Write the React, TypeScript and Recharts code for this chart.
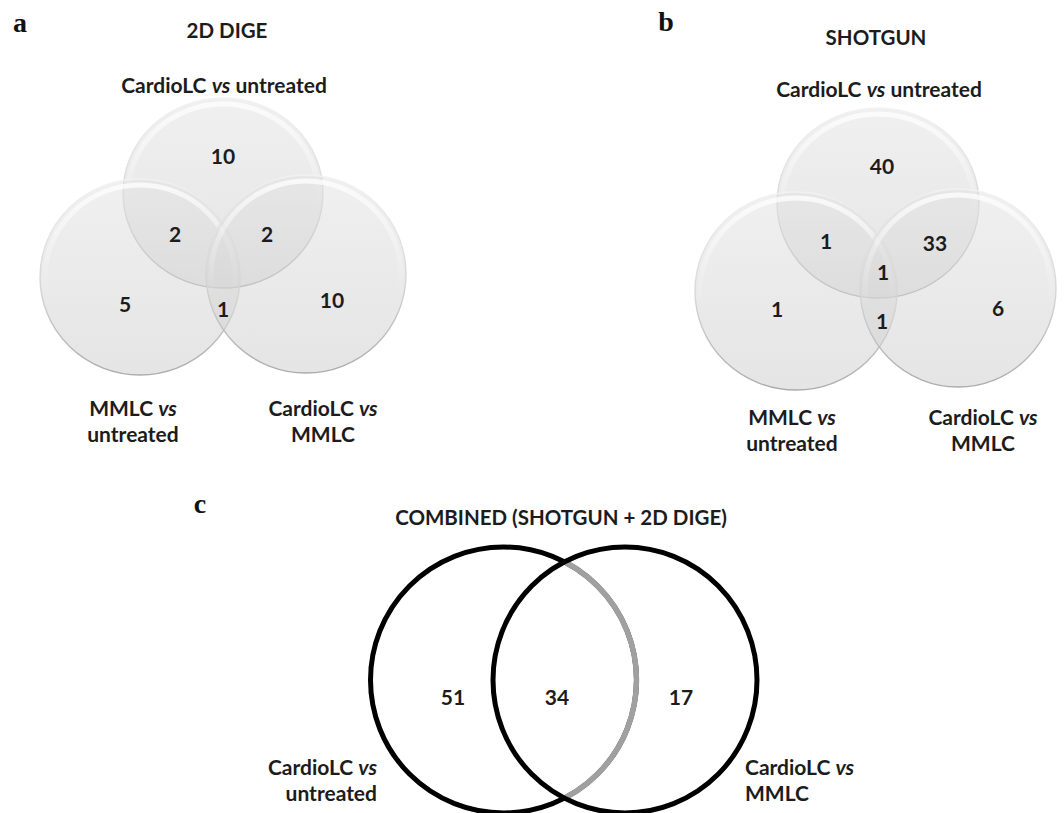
import React from "react";
import { ScatterChart, Scatter, XAxis, YAxis } from "recharts";

const WIDTH = 1064;
const HEIGHT = 813;
// plot area is the whole svg, so one data unit is one pixel on both axes
const X_DOMAIN: [number, number] = [0, WIDTH];
const Y_DOMAIN: [number, number] = [0, HEIGHT];
const KX = WIDTH / (X_DOMAIN[1] - X_DOMAIN[0]);
const KY = HEIGHT / (Y_DOMAIN[1] - Y_DOMAIN[0]);

const FONT = "Lato, 'Open Sans', sans-serif";
const INK = "#1c1c1c";

const panelLetters = ["a", "b", "c"];
const panelTitles = ["2D DIGE", "SHOTGUN", "COMBINED (SHOTGUN + 2D DIGE)"];

// three-way comparisons (a, b)
const tripleSets = ["CardioLC vs untreated", "MMLC vs untreated", "CardioLC vs MMLC"];
const tripleKeys = ["T", "L", "R"];
// regions: only top, only left, only right, top+left, top+right, left+right, all three
const tripleRegions = ["T", "L", "R", "TL", "TR", "LR", "TLR"];
const digeCounts: (number | null)[] = [10, 5, 10, 2, 2, 1, null];
const shotgunCounts: (number | null)[] = [40, 1, 6, 1, 33, 1, 1];

// two-way comparison (c)
const pairSets = ["CardioLC vs untreated", "CardioLC vs MMLC"];
const pairKeys = ["A", "B"];
const pairRegions = ["A", "AB", "B"];
const combinedCounts = [51, 34, 17];

// ---- layout ----
type Circ = { x: number; y: number; rx: number; ry: number };

const circlesA: Record<string, Circ> = {
  T: { x: 223, y: 193, rx: 100, ry: 95 },
  L: { x: 140, y: 277, rx: 100, ry: 98 },
  R: { x: 306, y: 274, rx: 100, ry: 99 },
};
const circlesB: Record<string, Circ> = {
  T: { x: 878, y: 203, rx: 101, ry: 95 },
  L: { x: 796, y: 291, rx: 101, ry: 99 },
  R: { x: 958, y: 288, rx: 98, ry: 99 },
};
const circlesC: Record<string, Circ> = {
  A: { x: 503.5, y: 680, rx: 133, ry: 133 },
  B: { x: 625, y: 680, rx: 132, ry: 133 },
};

const regionPosA: Record<string, [number, number]> = {
  T: [223, 155], L: [125, 303], R: [332, 299],
  TL: [175, 233], TR: [267, 233], LR: [223, 308], TLR: [223, 262],
};
const regionPosB: Record<string, [number, number]> = {
  T: [882, 165], L: [777, 308], R: [998, 307],
  TL: [826, 240], TR: [935, 242], LR: [882, 320], TLR: [883, 271],
};
const regionPosC: Record<string, [number, number]> = {
  A: [453, 696], AB: [557, 696], B: [681, 696],
};

type LabelPos = { x: number; y: number; anchor: "start" | "middle" | "end"; wrap: boolean };
const setLabelPosA: Record<string, LabelPos> = {
  T: { x: 224, y: 84, anchor: "middle", wrap: false },
  L: { x: 133, y: 407, anchor: "middle", wrap: true },
  R: { x: 323, y: 407, anchor: "middle", wrap: true },
};
const setLabelPosB: Record<string, LabelPos> = {
  T: { x: 879, y: 88, anchor: "middle", wrap: false },
  L: { x: 792, y: 416, anchor: "middle", wrap: true },
  R: { x: 983, y: 416, anchor: "middle", wrap: true },
};
const setLabelPosC: Record<string, LabelPos> = {
  A: { x: 377, y: 766, anchor: "end", wrap: true },
  B: { x: 745, y: 766, anchor: "start", wrap: true },
};

const titlePos: [number, number][] = [[227, 30], [876, 37], [561, 517]];
const letterPos: [number, number][] = [[20, 22], [666, 21], [200, 503]];

// ---- data for the series ----
const bubbleData = [
  ...tripleKeys.map((k) => ({ id: `a${k}`, ...circlesA[k] })),
  ...tripleKeys.map((k) => ({ id: `b${k}`, ...circlesB[k] })),
];

const ringData = pairKeys.map((k, i) => {
  const other = circlesC[pairKeys[1 - i]];
  return { id: `c${k}`, ...circlesC[k], greyInside: i === 0, other };
});

const countData = [
  ...tripleRegions.map((r, i) => ({ value: digeCounts[i], x: regionPosA[r][0], y: regionPosA[r][1] })),
  ...tripleRegions.map((r, i) => ({ value: shotgunCounts[i], x: regionPosB[r][0], y: regionPosB[r][1] })),
  ...pairRegions.map((r, i) => ({ value: combinedCounts[i], x: regionPosC[r][0], y: regionPosC[r][1] })),
].filter((d) => d.value !== null);

const setLabelData = [
  ...tripleKeys.map((k, i) => ({ name: tripleSets[i], ...setLabelPosA[k] })),
  ...tripleKeys.map((k, i) => ({ name: tripleSets[i], ...setLabelPosB[k] })),
  ...pairKeys.map((k, i) => ({ name: pairSets[i], ...setLabelPosC[k] })),
];

const titleData = panelTitles.map((t, i) => ({ text: t, x: titlePos[i][0], y: titlePos[i][1] }));
const letterData = panelLetters.map((t, i) => ({ text: t, x: letterPos[i][0], y: letterPos[i][1] }));

// ---- shapes ----
const Bubble = (props: any) => {
  const { cx, cy, payload } = props;
  const fillId = `fill-${payload.id}`;
  const edgeId = `edge-${payload.id}`;
  const glossId = `gloss-${payload.id}`;
  const rx = payload.rx * KX;
  const ry = payload.ry * KY;
  return (
    <g>
      <defs>
        <linearGradient id={fillId} x1="0" y1="0" x2="0" y2="1">
          <stop offset="0" stopColor="#e2e2e2" />
          <stop offset="0.55" stopColor="#d6d6d6" />
          <stop offset="1" stopColor="#cdcdcd" />
        </linearGradient>
        <linearGradient id={edgeId} x1="0" y1="0" x2="0" y2="1">
          <stop offset="0" stopColor="#f2f2f2" />
          <stop offset="0.55" stopColor="#d2d2d2" />
          <stop offset="1" stopColor="#a4a4a4" />
        </linearGradient>
        <linearGradient id={glossId} x1="0" y1="0" x2="0" y2="1">
          <stop offset="0" stopColor="#ffffff" stopOpacity={0.75} />
          <stop offset="0.35" stopColor="#ffffff" stopOpacity={0.25} />
          <stop offset="0.6" stopColor="#ffffff" stopOpacity={0} />
        </linearGradient>
      </defs>
      <ellipse cx={cx} cy={cy} rx={rx} ry={ry} fill={`url(#${fillId})`} fillOpacity={0.52} />
      <ellipse cx={cx} cy={cy + 1} rx={rx - 5} ry={ry - 5} fill="none" stroke={`url(#${glossId})`} strokeWidth={5} />
      <ellipse cx={cx} cy={cy} rx={rx} ry={ry} fill="none" stroke={`url(#${edgeId})`} strokeWidth={1.4} strokeOpacity={0.9} />
    </g>
  );
};

const Ring = (props: any) => {
  const { cx, cy, payload } = props;
  const rx = payload.rx * KX;
  const ry = payload.ry * KY;
  const clipId = `clip-${payload.id}`;
  const ox = cx + (payload.other.x - payload.x) * KX;
  const oy = cy + (payload.other.y - payload.y) * KY;
  return (
    <g>
      <ellipse cx={cx} cy={cy} rx={rx} ry={ry} fill="none" stroke="#000" strokeWidth={5} />
      {payload.greyInside && (
        <>
          <defs>
            <clipPath id={clipId}>
              <ellipse cx={ox} cy={oy} rx={payload.other.rx * KX} ry={payload.other.ry * KY} />
            </clipPath>
          </defs>
          <ellipse cx={cx} cy={cy} rx={rx} ry={ry} fill="none" stroke="#a0a0a0" strokeWidth={5.5} clipPath={`url(#${clipId})`} />
        </>
      )}
    </g>
  );
};

const CountLabel = (props: any) => {
  const { cx, cy, payload } = props;
  return (
    <text x={cx} y={cy} textAnchor="middle" dominantBaseline="central" fontFamily={FONT} fontWeight={700} fontSize={21} fill={INK}>
      {payload.value}
    </text>
  );
};

// "X vs Y" with italic vs, optionally broken after "vs"
const SetLabel = (props: any) => {
  const { cx, cy, payload } = props;
  const [left, right] = payload.name.split(" vs ");
  const common = {
    textAnchor: payload.anchor,
    dominantBaseline: "central" as const,
    fontFamily: FONT,
    fontWeight: 700,
    fontSize: 21,
    fill: INK,
  };
  if (!payload.wrap) {
    return (
      <text x={cx} y={cy} {...common}>
        <tspan>{left} </tspan>
        <tspan fontStyle="italic">vs</tspan>
        <tspan> {right}</tspan>
      </text>
    );
  }
  return (
    <g>
      <text x={cx} y={cy} {...common}>
        <tspan>{left} </tspan>
        <tspan fontStyle="italic">vs</tspan>
      </text>
      <text x={cx} y={cy + 26} {...common}>
        {right}
      </text>
    </g>
  );
};

const Title = (props: any) => {
  const { cx, cy, payload } = props;
  return (
    <text x={cx} y={cy} textAnchor="middle" dominantBaseline="central" fontFamily={FONT} fontWeight={700} fontSize={20.5} fill={INK}>
      {payload.text}
    </text>
  );
};

const Letter = (props: any) => {
  const { cx, cy, payload } = props;
  return (
    <text x={cx} y={cy} textAnchor="middle" dominantBaseline="central" fontFamily="'Liberation Serif', 'Times New Roman', serif" fontWeight={700} fontSize={28} fill="#111">
      {payload.text}
    </text>
  );
};

export default function App() {
  return (
    <div style={{ position: "absolute", left: 0, top: 0, width: WIDTH, height: HEIGHT, background: "#fff" }}>
      <ScatterChart width={WIDTH} height={HEIGHT} margin={{ top: 0, right: 0, bottom: 0, left: 0 }}>
        <XAxis type="number" dataKey="x" domain={X_DOMAIN} hide />
        <YAxis type="number" dataKey="y" domain={Y_DOMAIN} reversed hide />
        <Scatter data={bubbleData} shape={Bubble} isAnimationActive={false} />
        <Scatter data={ringData} shape={Ring} isAnimationActive={false} />
        <Scatter data={countData} shape={CountLabel} isAnimationActive={false} />
        <Scatter data={setLabelData} shape={SetLabel} isAnimationActive={false} />
        <Scatter data={titleData} shape={Title} isAnimationActive={false} />
        <Scatter data={letterData} shape={Letter} isAnimationActive={false} />
      </ScatterChart>
    </div>
  );
}
